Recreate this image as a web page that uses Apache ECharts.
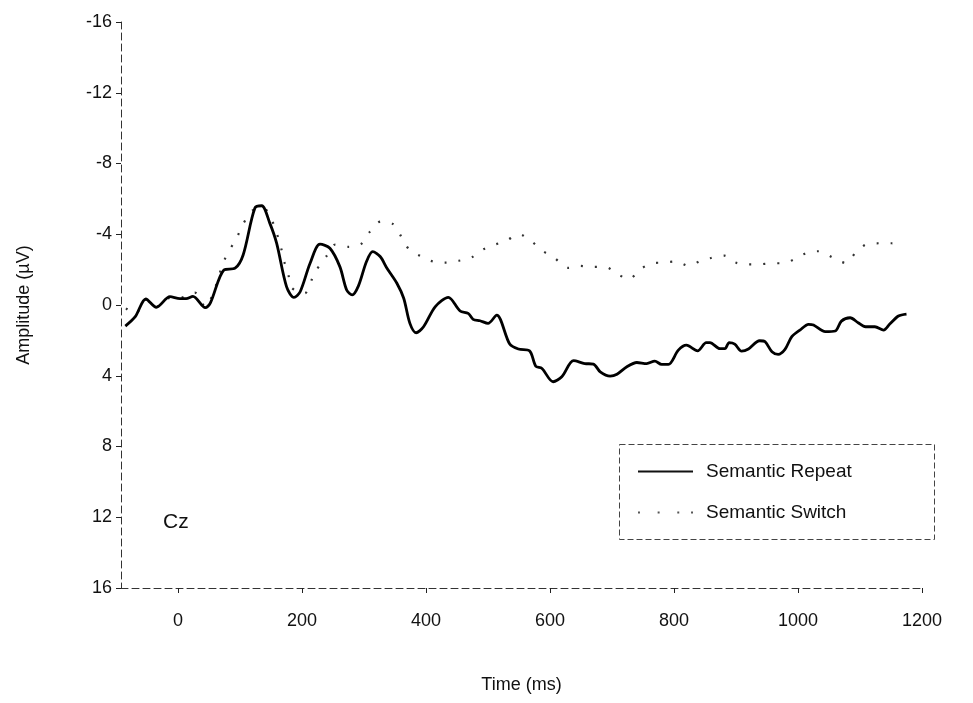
<!DOCTYPE html>
<html><head><meta charset="utf-8">
<script src="https://cdn.jsdelivr.net/npm/echarts@6/dist/echarts.min.js"></script>
<style>html,body{margin:0;padding:0;background:#fff}#c{width:973px;height:703px}</style>
</head><body><div id="c"></div>
<script>
var repeatTime = [-85,-69,-52,-35,-13,3,13,24,44,52,74,92,105,124,135,148,159,175,187,197,213,229,245,261,272,281,291,304,314,326,337,353,364,374,384,396,415,436,455,468,476,487,500,514,535,549,567,577,587,605,619,638,656,670,681,697,708,724,740,756,769,780,791,807,820,838,852,858,874,882,889,898,909,920,938,947,958,968,979,990,1003,1017,1025,1044,1060,1070,1084,1097,1109,1124,1138,1148,1162,1175];
var repeatAmp = [1.19,0.66,-0.34,0.13,-0.47,-0.36,-0.36,-0.49,0.15,-0.1,-1.98,-2.08,-2.83,-5.48,-5.61,-4.63,-3.5,-1.04,-0.43,-0.75,-2.36,-3.44,-3.21,-2.17,-0.85,-0.57,-1.08,-2.46,-3.02,-2.74,-2.08,-1.23,-0.38,1.04,1.57,1.23,0.09,-0.43,0.34,0.47,0.81,0.89,1.04,0.57,2.21,2.49,2.59,3.46,3.59,4.34,4.06,3.15,3.31,3.34,3.78,4.02,3.91,3.49,3.25,3.31,3.17,3.36,3.36,2.55,2.27,2.59,2.13,2.13,2.47,2.47,2.13,2.21,2.61,2.49,2.02,2.08,2.64,2.79,2.51,1.79,1.42,1.09,1.13,1.51,1.47,0.91,0.72,1.0,1.23,1.23,1.42,1.08,0.62,0.51];
var switchTime = [-84,-69,-52,-35,-13,3,27,44,60,74,96,105,124,140,155,162,167,172,178,183,204,220,239,254,275,295,309,327,347,360,373,393,413,433,453,473,491,510,529,550,570,588,606,629,647,668,689,708,727,745,764,784,803,824,842,860,881,899,918,937,956,976,995,1015,1034,1056,1077,1093,1111,1131,1151,1171];
var switchAmp = [0.19,0.5,-0.3,0.1,-0.4,-0.4,-0.7,0.1,-1.0,-2.49,-3.9,-4.59,-5.4,-5.4,-4.5,-3.74,-3.12,-2.36,-1.7,-0.98,-0.66,-1.8,-2.74,-3.42,-3.29,-3.44,-4.12,-4.72,-4.57,-3.87,-3.13,-2.74,-2.44,-2.4,-2.5,-2.68,-3.12,-3.4,-3.63,-4.0,-3.6,-3.06,-2.7,-2.1,-2.21,-2.15,-2.15,-1.78,-1.45,-2.0,-2.36,-2.4,-2.46,-2.21,-2.49,-2.66,-2.79,-2.4,-2.3,-2.3,-2.36,-2.36,-2.6,-2.96,-3.04,-2.68,-2.38,-2.96,-3.44,-3.49,-3.49,-3.44];
var xTicks = [0,200,400,600,800,1000,1200];
var seriesNames = ['Semantic Repeat','Semantic Switch'];

function pairs(t, v){ return t.map(function(x,i){ return [x, v[i]]; }); }

var font = 'Liberation Sans, Arial, sans-serif';
var chart = echarts.init(document.getElementById('c'), null, {renderer:'canvas'});
chart.setOption({
  animation:false,
  backgroundColor:'#fff',
  grid:{left:121, right:51, top:22, bottom:115},
  xAxis:{
    type:'value', min:-92, max:1200,
    name:'Time (ms)', nameLocation:'middle', nameGap:88,
    nameTextStyle:{fontFamily:font, fontSize:18, color:'#111'},
    axisLine:{show:true, onZero:false, lineStyle:{color:'#333', width:1, type:[7,4]}},
    axisTick:{show:true, customValues:xTicks, length:5, lineStyle:{color:'#222'}},
    axisLabel:{customValues:xTicks, fontFamily:font, fontSize:18, color:'#111', margin:24,
      formatter:function(v){ return String(v); }},
    splitLine:{show:false}
  },
  yAxis:{
    type:'value', inverse:true, min:-16, max:16, interval:4,
    name:'Amplitude (\u00b5V)', nameLocation:'middle', nameGap:88, nameRotate:90,
    nameTextStyle:{fontFamily:font, fontSize:18, color:'#111'},
    axisLine:{show:true, onZero:false, lineStyle:{color:'#333', width:1, type:[7,4]}},
    axisTick:{show:true, length:5, lineStyle:{color:'#222'}},
    axisLabel:{fontFamily:font, fontSize:18, color:'#111', margin:9},
    splitLine:{show:false}
  },
  legend:{
    orient:'vertical', left:633, top:457, itemWidth:55, itemHeight:2, itemGap:22,
    textStyle:{fontFamily:font, fontSize:19, color:'#111', padding:[0,0,0,8]},
    data:[
      {name:seriesNames[0], icon:'rect', itemStyle:{color:'#111'}},
      {name:seriesNames[1], icon:'path://M0,0h2v2h-2z M20,0h2v2h-2z M40,0h2v2h-2z M54,0h2v2h-2z', itemStyle:{color:'#555'}}
    ]
  },
  graphic:[
    {type:'rect', left:617, top:442, shape:{width:315, height:95}, style:{fill:'none', stroke:'#444', lineWidth:1, lineDash:[6,3]}, z:-1},
    {type:'text', left:163, top:512, style:{text:'Cz', fontFamily:font, fontSize:21, fill:'#111'}}
  ],
  series:[
    {name:seriesNames[1], type:'line', data:pairs(switchTime, switchAmp), showSymbol:false, smooth:0.3,
     lineStyle:{color:'#333', width:2.2, type:[2,12]}, itemStyle:{color:'#555'}, z:2},
    {name:seriesNames[0], type:'line', data:pairs(repeatTime, repeatAmp), showSymbol:false, smooth:0.3,
     lineStyle:{color:'#000', width:2.8}, itemStyle:{color:'#111'}, z:3}
  ]
});
</script></body></html>
